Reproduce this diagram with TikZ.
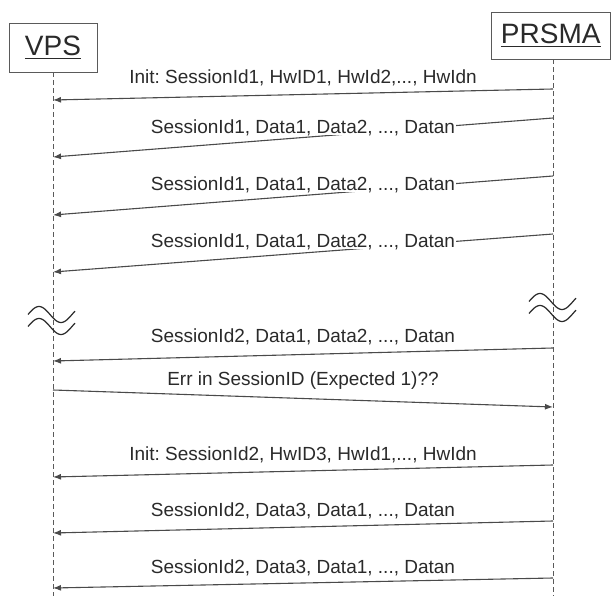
\documentclass[tikz,border=0pt]{standalone}
\usepackage{fontspec}
\setmainfont{Liberation Sans}
\usetikzlibrary{arrows.meta}
\definecolor{ink}{HTML}{2A2A2A}
\definecolor{linec}{HTML}{4A4A4A}
\definecolor{lifec}{HTML}{5A5A5A}
\newcommand\thickul[1]{\leavevmode\vtop{\hbox{#1}\kern2.2pt\hrule height 1.8pt}}
\frenchspacing
\begin{document}
\begin{tikzpicture}[x=1pt,y=-1pt,
  actor/.style={draw=lifec, line width=0.8pt, fill=white, text=ink, inner sep=0pt,
    font=\fontsize{28}{30}\selectfont},
  lifeline/.style={draw=lifec, line width=0.6pt, dash pattern=on 5pt off 3pt},
  msg/.style={draw=linec, line width=1.1pt, -{Latex[length=8pt,width=6pt]}},
  lbl/.style={text=ink, anchor=base, inner sep=0pt, font=\fontsize{19}{22}\selectfont},
  masklbl/.style={lbl, fill=white, inner xsep=1pt, inner ysep=1pt, text depth=0pt},
  wave/.style={draw=ink, line width=1.2pt}]
\useasboundingbox (0,0) rectangle (611,596);
\fill[white] (0,0) rectangle (611,596);
% actors
\node[actor, minimum width=88pt, minimum height=49pt] (vps) at (53,47.5) {\thickul{VPS}};
\node[actor, minimum width=119.5pt, minimum height=47pt] (prsma) at (550.75,35.5) {\thickul{PRSMA}};
% lifelines
\coordinate (vbot) at (53,596);
\coordinate (pbot) at (553,596);
\draw[lifeline] (vps.south) -- (vbot);
\draw[lifeline] (prsma.south -| pbot) -- (pbot);
% message end points
\coordinate (p1) at (553,89);  \coordinate (v1) at (53,100);
\coordinate (p2) at (553,118); \coordinate (v2) at (53,157);
\coordinate (p3) at (553,176); \coordinate (v3) at (53,215);
\coordinate (p4) at (553,234); \coordinate (v4) at (53,272);
\coordinate (p5) at (553,348); \coordinate (v5) at (53,361);
\coordinate (v6) at (53,390);  \coordinate (p6) at (553,407);
\coordinate (p7) at (553,465); \coordinate (v7) at (53,477);
\coordinate (p8) at (553,521); \coordinate (v8) at (53,533);
\coordinate (p9) at (553,578); \coordinate (v9) at (53,588);
% messages
\draw[msg] (p1) -- (v1);
\node[lbl] (l1) at (303,84) {Init: SessionId1, HwID1, HwId2,..., HwIdn};
\draw[msg] (p2) -- (v2);
\node[masklbl] (l2) at (303,134) {SessionId1, Data1, Data2, ..., Datan};
\draw[msg] (p3) -- (v3);
\node[masklbl] (l3) at (303,191) {SessionId1, Data1, Data2, ..., Datan};
\draw[msg] (p4) -- (v4);
\node[masklbl] (l4) at (303,248) {SessionId1, Data1, Data2, ..., Datan};
\draw[msg] (p5) -- (v5);
\node[lbl] (l5) at (303,343) {SessionId2, Data1, Data2, ..., Datan};
\draw[msg] (v6) -- (p6);
\node[lbl] (l6) at (303,385) {Err in SessionID (Expected 1)??};
\draw[msg] (p7) -- (v7);
\node[lbl] (l7) at (303,460) {Init: SessionId2, HwID3, HwId1,..., HwIdn};
\draw[msg] (p8) -- (v8);
\node[lbl] (l8) at (303,516) {SessionId2, Data3, Data1, ..., Datan};
\draw[msg] (p9) -- (v9);
\node[lbl] (l9) at (303,573) {SessionId2, Data3, Data1, ..., Datan};
% time breaks
\foreach \wx/\wy in {28/314.5, 28/326.5, 529/301.5, 529/313.5} {
  \draw[wave, shift={(\wx,\wy)}] plot[domain=0:47, samples=48, smooth]
      (\x, {-8*cos(360*(\x-11)/44)});
}
\end{tikzpicture}
\end{document}
